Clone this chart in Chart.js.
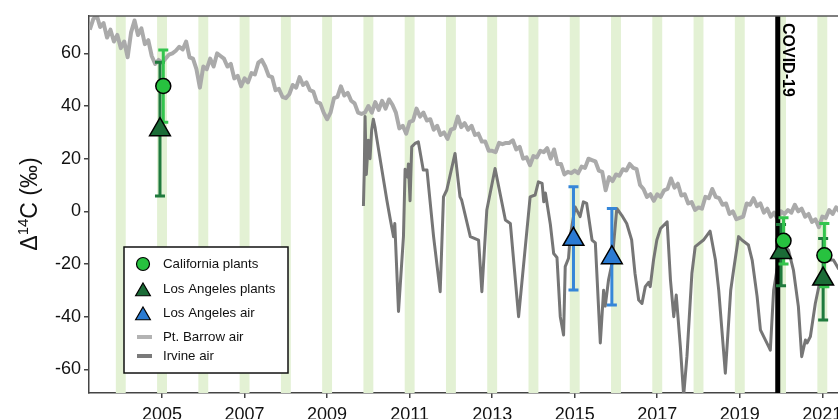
<!DOCTYPE html>
<html>
<head>
<meta charset="utf-8">
<script src="https://cdn.jsdelivr.net/npm/chart.js@4.4.0/dist/chart.umd.min.js"></script>
<style>
html, body { margin: 0; padding: 0; background: #fff; }
</style>
</head>
<body>
<canvas id="chart" width="838" height="419"></canvas>
<script>
// Pt. Barrow air, monthly from Apr 2003
const barrowStart = 2003.25
const barrowVals = [
    69, 73, 74.5, 70, 71.5, 66, 69, 64.5, 67,
    62, 64.5, 58.5, 68, 72.5, 67, 69.5, 63.5, 65, 59, 56, 57.5,
    56.5, 58, 59.5, 60, 61, 62.5, 61.5, 64.5, 58.5, 58, 54, 47,
    55, 54, 58, 55, 60, 59, 58, 55, 56, 50.5, 51.5, 47.5,
    50.5, 49, 52.5, 52, 56.5, 57.5, 55, 51.5, 51, 46, 46.5, 43.5,
    43, 44.5, 48, 47, 51, 48, 49, 46, 45.5, 41.5, 41, 37.5,
    35, 37.5, 43, 43.5, 47.5, 44, 45, 42, 41, 37.5, 37, 37.5,
    40, 37.5, 41.5, 38.5, 42, 39, 42.5, 40.5, 37.5, 31.5, 32.5, 29.5,
    34, 34.5, 39, 36, 37.5, 34.5, 35, 31, 32.5, 29, 30, 27.5,
    31, 31.5, 36, 32, 33.5, 31, 32.5, 29, 29.5, 26.5, 26.5, 23,
    23, 22.5, 26, 25.5, 26, 26, 27, 23.5, 24.5, 20, 20.5, 17.5,
    21, 20.5, 23, 22.5, 24, 20, 23.5, 18, 18, 14, 15, 14.5,
    15.5, 14.5, 17, 16.5, 20, 19.5, 19, 15.5, 15, 8, 13, 11.5,
    14, 13.5, 16, 15.5, 18, 16.5, 16, 10, 8.5, 5.5, 6.5, 4,
    6.5, 5.5, 8, 8.5, 12.5, 9, 10.5, 6, 6.5, 3, 3.5, 0.5,
    1.5, 1, 5.5, 5, 8.5, 5.5, 5, 2.5, 3, -1, 0, -3,
    -2.5, -2, 3, 2.5, 5, 2, 3, -0.5, 1, -2, -0.5, -3,
    0, -1, 0.5, -0.5, 2.5, 0, 1, -2, -1, -4, -3, -6,
    -2, -2.5, 0.5, -1, 1.5, 0
]

// Irvine air
const irvineDates = [
    2009.88, 2009.90, 2009.92, 2009.95, 2010.00, 2010.04, 2010.08, 2010.12, 2010.16, 2010.20,
    2010.45, 2010.53, 2010.61, 2010.64, 2010.73, 2010.85, 2010.89, 2010.95, 2010.97, 2011.01,
    2011.05, 2011.13, 2011.21, 2011.33, 2011.42, 2011.58, 2011.74, 2011.82, 2011.90, 2012.10,
    2012.22, 2012.26, 2012.47, 2012.67, 2012.75, 2012.87, 2013.07, 2013.32, 2013.44, 2013.64,
    2013.92, 2014.04, 2014.12, 2014.21, 2014.25, 2014.29, 2014.41, 2014.49, 2014.57, 2014.65,
    2014.73, 2014.77, 2014.85, 2014.89, 2015.01, 2015.13, 2015.21, 2015.29, 2015.42, 2015.50,
    2015.62, 2015.70, 2015.74, 2015.82, 2015.90, 2016.02, 2016.14, 2016.26, 2016.38, 2016.46,
    2016.55, 2016.63, 2016.71, 2016.79, 2016.83, 2016.91, 2016.99, 2017.08, 2017.24, 2017.32,
    2017.40, 2017.46, 2017.56, 2017.64, 2017.72, 2017.84, 2017.92, 2018.12, 2018.28, 2018.41,
    2018.49, 2018.65, 2018.78, 2018.85, 2018.97, 2019.05, 2019.21, 2019.30, 2019.42, 2019.50,
    2019.58, 2019.70, 2019.74, 2019.82, 2019.94, 2020.07, 2020.18, 2020.30, 2020.42, 2020.50,
    2020.59, 2020.63, 2020.71, 2020.83, 2020.95, 2021.07, 2021.27, 2021.40
]
const irvineVals = [
    2, 15, 36, 14, 27, 20, 31, 35, 32, 28,
    4, -3, -9.6, -4.6, -38, -9.6, 16, 13, 18, 4,
    24.5, 25.8, 26.4, 15.7, 15.7, -9.6, -30.5, 5.5, 8.1, 22,
    5.5, 4.3, -9.6, -10.9, -30.5, 0.5, 16.3, -3.3, -4.6, -40,
    5.5, 6.2, 11.2, 10.6, 3.6, 7, -5, -16, -17.5, -40,
    -47, -21, -17.8, -9.6, 1.7, -2, 3.6, 3, -10.9, -12,
    -50, -30, -36, -26, -20, 1.1, -1.5, -4.6, -10.9, -23.5,
    -33.7, -35, -28.6, -27, -28.6, -18.5, -10.9, -6.5, -4, -26,
    -40, -31.8, -51.4, -70, -55, -23.5, -13.4, -10.9, -7.5, -18.5,
    -30, -61.5, -30, -22.3, -9.6, -10.9, -12.8, -18.5, -32.4, -45,
    -47.6, -51.4, -52.7, -30, -18.5, -13, -14.7, -22.3, -36.2, -55.2,
    -48.9, -50, -47.6, -35, -26, -18.5, -18.5, -22
]

// California plants
const caDates = [2005.03, 2020.06, 2021.05]
const caVals = [47.6, -11.2, -16.7]
const caLow = [33.8, -20, -28.6]
const caHigh = [61.3, -2.4, -4.6]

// Los Angeles plants
const laPlantDates = [2004.95, 2020.0, 2021.02]
const laPlantVals = [31, -15.6, -25.7]
const laPlantLow = [5.8, -28.3, -41.3]
const laPlantHigh = [56.6, -5, -10.3]

// Los Angeles air
const laAirDates = [2014.97, 2015.9]
const laAirVals = [-10.6, -17.6]
const laAirLow = [-29.9, -35.6]
const laAirHigh = [9.3, 1.1]

const bandYears = [2004, 2005, 2006, 2007, 2008, 2009, 2010, 2011, 2012, 2013, 2014, 2015, 2016, 2017, 2018, 2019, 2020, 2021]
const xTicks = [2005, 2007, 2009, 2011, 2013, 2015, 2017, 2019, 2021]
const yTicks = [-60, -40, -20, 0, 20, 40, 60]
const covidDate = 2019.92

const FONT = "'Liberation Sans', Arial, Helvetica, sans-serif"
const toPts = (xs, ys) => xs.map((d, i) => ({ x: d, y: ys[i] }))
const barrowPts = barrowVals.map((v, i) => ({ x: barrowStart + i / 12, y: v }))

const triPath = (ctx, x, y, r) => {
    ctx.beginPath()
    ctx.moveTo(x, y - r)
    ctx.lineTo(x + r * 0.866, y + r / 2)
    ctx.lineTo(x - r * 0.866, y + r / 2)
    ctx.closePath()
}

const drawBars = (chart, xs, lows, highs, color) => {
    const ctx = chart.ctx
    const sx = chart.scales.x, sy = chart.scales.y
    ctx.save()
    ctx.strokeStyle = color
    ctx.lineWidth = 3
    xs.forEach((d, i) => {
        const px = sx.getPixelForValue(d)
        const top = sy.getPixelForValue(highs[i])
        const bot = sy.getPixelForValue(lows[i])
        ctx.beginPath()
        ctx.moveTo(px, top); ctx.lineTo(px, bot)
        ctx.moveTo(px - 5, top); ctx.lineTo(px + 5, top)
        ctx.moveTo(px - 5, bot); ctx.lineTo(px + 5, bot)
        ctx.stroke()
    })
    ctx.restore()
}

const bandsPlugin = {
    id: 'bands',
    beforeDatasetsDraw(chart) {
        const { ctx, chartArea: a } = chart
        const sx = chart.scales.x
        ctx.save()
        ctx.beginPath()
        ctx.rect(a.left, a.top, a.right - a.left, a.bottom - a.top)
        ctx.clip()
        ctx.fillStyle = '#e3f1d4'
        bandYears.forEach(yr => {
            const l = sx.getPixelForValue(yr - 0.12)
            const r = sx.getPixelForValue(yr + 0.12)
            ctx.fillRect(l, a.top, r - l, a.bottom - a.top)
        })
        ctx.restore()
    }
}

const overlayPlugin = {
    id: 'overlay',
    beforeDatasetDraw(chart, args) {
        if (args.index !== 2) return
        const { ctx, chartArea: a } = chart
        const px = chart.scales.x.getPixelForValue(covidDate)
        ctx.save()
        ctx.strokeStyle = '#000'
        ctx.lineWidth = 5
        ctx.beginPath()
        ctx.moveTo(px, a.top); ctx.lineTo(px, a.bottom)
        ctx.stroke()
        ctx.restore()
        drawBars(chart, laPlantDates, laPlantLow, laPlantHigh, '#1f7a3d')
        drawBars(chart, caDates, caLow, caHigh, '#34c44e')
        drawBars(chart, laAirDates, laAirLow, laAirHigh, '#3586d8')
    },
    afterDatasetsDraw(chart) {
        const { ctx, chartArea: a } = chart
        const sx = chart.scales.x
        const px = sx.getPixelForValue(covidDate)
        ctx.save()
        ctx.strokeStyle = '#555'
        ctx.lineWidth = 1.5
        ctx.beginPath()
        ctx.moveTo(a.left, a.top); ctx.lineTo(a.right, a.top)
        ctx.stroke()

        // x tick labels
        ctx.fillStyle = '#111'
        ctx.font = '18px ' + FONT
        ctx.textAlign = 'center'
        ctx.textBaseline = 'alphabetic'
        xTicks.forEach(t => ctx.fillText(String(t), sx.getPixelForValue(t), a.bottom + 27))

        ctx.translate(px + 5, a.top + 7)
        ctx.rotate(Math.PI / 2)
        ctx.fillStyle = '#000'
        ctx.font = 'bold 16px ' + FONT
        ctx.textAlign = 'left'
        ctx.fillText('COVID-19', 0, 0)
        ctx.restore()

        // y axis title
        ctx.save()
        ctx.translate(37, 204)
        ctx.rotate(-Math.PI / 2)
        ctx.fillStyle = '#111'
        ctx.textBaseline = 'alphabetic'
        ctx.font = '23px ' + FONT
        const w1 = ctx.measureText('\u0394').width
        const w3 = ctx.measureText('C (\u2030)').width
        ctx.font = '15px ' + FONT
        const w2 = ctx.measureText('14').width
        const x0 = -(w1 + w2 + w3) / 2
        ctx.font = '23px ' + FONT
        ctx.fillText('\u0394', x0, 0)
        ctx.font = '15px ' + FONT
        ctx.fillText('14', x0 + w1, -9)
        ctx.font = '23px ' + FONT
        ctx.fillText('C (\u2030)', x0 + w1 + w2, 0)
        ctx.restore()
    }
}

const legendPlugin = {
    id: 'boxLegend',
    afterDraw(chart) {
        const ctx = chart.ctx
        ctx.save()
        ctx.fillStyle = '#fff'
        ctx.fillRect(124, 247, 164, 126)
        ctx.strokeStyle = '#111'
        ctx.lineWidth = 1.5
        ctx.strokeRect(124, 247, 164, 126)

        ctx.lineWidth = 1.2
        ctx.strokeStyle = '#000'
        ctx.beginPath()
        ctx.arc(143, 264, 6.5, 0, Math.PI * 2)
        ctx.fillStyle = '#27c23f'
        ctx.fill(); ctx.stroke()

        triPath(ctx, 143, 291.5, 8.5)
        ctx.fillStyle = '#1b6c37'
        ctx.fill(); ctx.stroke()

        triPath(ctx, 143, 315.5, 8.5)
        ctx.fillStyle = '#2a7bd2'
        ctx.fill(); ctx.stroke()

        ctx.lineWidth = 4
        ctx.strokeStyle = '#b3b3b3'
        ctx.beginPath(); ctx.moveTo(137, 337); ctx.lineTo(152, 337); ctx.stroke()
        ctx.strokeStyle = '#7a7a7a'
        ctx.beginPath(); ctx.moveTo(137, 356); ctx.lineTo(152, 356); ctx.stroke()

        ctx.fillStyle = '#111'
        ctx.font = '13.3px ' + FONT
        ctx.textBaseline = 'middle'
        ctx.fillText('California plants', 163, 264)
        ctx.fillText('Los Angeles plants', 163, 289)
        ctx.fillText('Los Angeles air', 163, 313)
        ctx.fillText('Pt. Barrow air', 163, 337)
        ctx.fillText('Irvine air', 163, 356)
        ctx.restore()
    }
}

const axisStyle = {
    grid: { drawOnChartArea: false, drawTicks: true, tickLength: 5, color: '#444', lineWidth: 1.5 },
    border: { display: true, color: '#444', width: 1.5 }
}

new Chart('chart', {
    type: 'scatter',
    data: {
        datasets: [
            {
                label: 'California plants', data: toPts(caDates, caVals),
                pointStyle: 'circle', pointRadius: 7.5, backgroundColor: '#27c23f',
                borderColor: '#000', borderWidth: 1.5, order: 0
            },
            {
                label: 'Los Angeles plants', data: toPts(laPlantDates, laPlantVals),
                pointStyle: 'triangle', pointRadius: 12, backgroundColor: '#1b6c37',
                borderColor: '#000', borderWidth: 1.5, order: 1
            },
            {
                label: 'Los Angeles air', data: toPts(laAirDates, laAirVals),
                pointStyle: 'triangle', pointRadius: 12, backgroundColor: '#2a7bd2',
                borderColor: '#000', borderWidth: 1.5, order: 2
            },
            {
                label: 'Irvine air', type: 'line', data: toPts(irvineDates, irvineVals),
                borderColor: '#767676', borderWidth: 3, pointRadius: 0, tension: 0,
                borderJoinStyle: 'round', order: 3
            },
            {
                label: 'Pt. Barrow air', type: 'line', data: barrowPts,
                borderColor: '#aaaaaa', borderWidth: 4, pointRadius: 0, tension: 0,
                borderJoinStyle: 'round', order: 4
            }
        ]
    },
    options: {
        responsive: false,
        animation: false,
        devicePixelRatio: 1,
        events: [],
        layout: { autoPadding: false, padding: { top: 16, left: 0, right: 0, bottom: 0 } },
        plugins: { legend: { display: false }, tooltip: { enabled: false } },
        scales: {
            x: {
                type: 'linear', min: 2003.23, max: 2021.38,
                afterBuildTicks: s => { s.ticks = xTicks.map(v => ({ value: v })) },
                afterFit: s => { s.height = 26; s.paddingLeft = 0; s.paddingRight = 0 },
                ticks: { display: false },
                ...axisStyle
            },
            y: {
                min: -69, max: 74.2,
                afterBuildTicks: s => { s.ticks = yTicks.map(v => ({ value: v })) },
                afterFit: s => { s.width = 89; s.paddingTop = 0; s.paddingBottom = 0 },
                ticks: { padding: 3, color: '#111', font: { size: 18, family: FONT } },
                ...axisStyle
            }
        }
    },
    plugins: [bandsPlugin, overlayPlugin, legendPlugin]
})
</script>
</body>
</html>
